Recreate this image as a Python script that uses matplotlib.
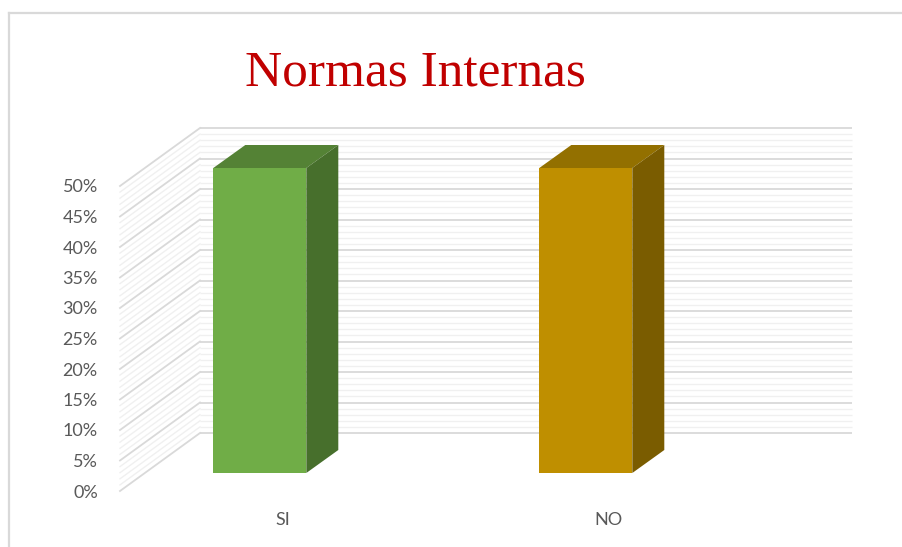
import numpy as np
import matplotlib
matplotlib.use("Agg")
import matplotlib.pyplot as plt
from matplotlib.patches import Polygon
from matplotlib.lines import Line2D

# ---- data ----
categories = ["SI", "NO"]
values = [0.50, 0.50]
front_colors = ["#70AD47", "#BF8F00"]
top_colors = ["#548235", "#937000"]
side_colors = ["#476F2C", "#7A5C00"]
y_ticks = [0.00, 0.05, 0.10, 0.15, 0.20, 0.25, 0.30, 0.35, 0.40, 0.45, 0.50]
y_tick_labels = ["0%", "5%", "10%", "15%", "20%", "25%", "30%", "35%", "40%", "45%", "50%"]
title = "Normas Internas"

W, H = 903, 547
fig = plt.figure(figsize=(W / 100, H / 100), dpi=100)

# front plane of the 3D box, in pixel coordinates of the reference
fx0, fx1, fy0, fy1 = 120, 772, 491, 186
ax = fig.add_axes([fx0 / W, (H - fy0) / H, (fx1 - fx0) / W, (fy0 - fy1) / H])
ax.set_xlim(-0.5, 1.5)
ax.set_ylim(0, 0.5)
for s in ax.spines.values():
    s.set_visible(False)
ax.patch.set_alpha(0)

pxu = (fx1 - fx0) / 2.0      # pixels per category unit
pyu = (fy0 - fy1) / 0.5      # pixels per value unit
WX, WY = 80 / pxu, 58 / pyu  # wall depth offset
BX0, BY0 = 24.8 / pxu, 18 / pyu  # bar front offset
DX, DY = 32 / pxu, 23 / pyu      # bar depth
BW = 93 / pxu
SHIFT = -48 / pxu

# gridlines (minor every 1%, major every 5%)
levels = np.round(np.arange(0, 0.5001, 0.01), 4)
for lv in levels:
    major = abs(lv * 100 % 5) < 1e-6 or abs(lv * 100 % 5 - 5) < 1e-6
    col = "#D9D9D9" if major else "#F0F0F0"
    lw = 1.3 if major else 1.0
    ax.plot([-0.5 + WX, 1.5 + WX], [lv + WY, lv + WY], color=col, lw=lw,
            clip_on=False, zorder=1, solid_capstyle="butt")
    ax.plot([-0.5, -0.5 + WX], [lv, lv + WY], color=col, lw=lw,
            clip_on=False, zorder=1)

# bars
for i, (v, fc, tc, sc) in enumerate(zip(values, front_colors, top_colors, side_colors)):
    x0 = i + SHIFT - BW / 2 + BX0
    x1 = x0 + BW
    y0 = BY0
    y1 = BY0 + v
    ax.add_patch(Polygon([[x0, y0], [x1, y0], [x1, y1], [x0, y1]], closed=True,
                         facecolor=fc, edgecolor="none", clip_on=False, zorder=3))
    ax.add_patch(Polygon([[x0, y1], [x1, y1], [x1 + DX, y1 + DY], [x0 + DX, y1 + DY]],
                         closed=True, facecolor=tc, edgecolor="none", clip_on=False, zorder=3))
    ax.add_patch(Polygon([[x1, y0], [x1 + DX, y0 + DY], [x1 + DX, y1 + DY], [x1, y1]],
                         closed=True, facecolor=sc, edgecolor="none", clip_on=False, zorder=3))

# ticks
ax.set_yticks(y_ticks)
ax.set_yticklabels(y_tick_labels, fontfamily="Lato", fontsize=13, color="#595959")
ax.tick_params(axis="y", length=0, pad=16)
ax.set_xticks(range(len(categories)))
ax.set_xticklabels(categories, fontfamily="Lato", fontsize=13, color="#595959")
ax.tick_params(axis="x", length=0, pad=15)

# title
fig.text(415 / W, 1 - 73 / H, title, ha="center", va="center",
         fontfamily="Liberation Serif", fontsize=37, color="#C00000")

# outer chart frame
fig.add_artist(Line2D([9 / W, 9 / W], [-0.05, 1 - 13 / H], transform=fig.transFigure,
                      color="#D9D9D9", lw=1.6))
fig.add_artist(Line2D([9 / W, 1.05], [1 - 13 / H, 1 - 13 / H], transform=fig.transFigure,
                      color="#D9D9D9", lw=1.6))

fig.savefig("out.png", dpi=100)
